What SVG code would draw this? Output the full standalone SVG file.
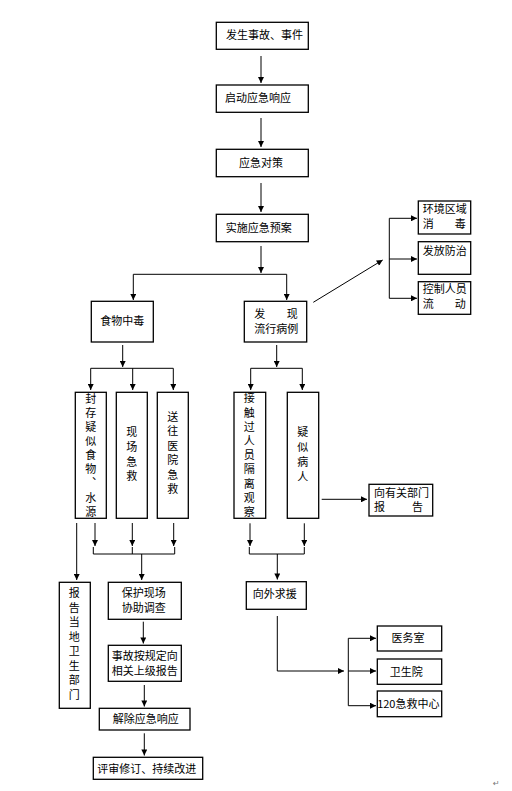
<svg xmlns="http://www.w3.org/2000/svg" width="512" height="791" viewBox="0 0 512 791">
<style>
rect.b{fill:#fff;stroke:#000;stroke-width:1.3}
text{font-family:"Noto Sans CJK SC","Noto Sans",sans-serif;font-size:11px;fill:#000}
.m{text-anchor:middle}
.v{writing-mode:tb;text-anchor:start}
#connectors path,#connectors line{fill:none;stroke:#000;stroke-width:1}
</style>
<defs>
<marker id="arr" viewBox="0 0 8 8" refX="8" refY="4" markerWidth="7" markerHeight="6" markerUnits="userSpaceOnUse" orient="auto">
<path d="M0,0 L8,4 L0,8 z" fill="#000"/>
</marker>
</defs>
<rect width="512" height="791" fill="#fff"/>
<g id="connectors">
<line x1="261" y1="56" x2="261" y2="83" marker-end="url(#arr)"/>
<line x1="261" y1="118" x2="261" y2="147" marker-end="url(#arr)"/>
<line x1="261" y1="183" x2="261" y2="212" marker-end="url(#arr)"/>
<line x1="261" y1="246" x2="261" y2="273" marker-end="url(#arr)"/>
<path d="M133.3,274.3 H286.7"/>
<line x1="133.3" y1="274.3" x2="133.3" y2="300" marker-end="url(#arr)"/>
<line x1="286.7" y1="274.3" x2="286.7" y2="300" marker-end="url(#arr)"/>
<line x1="313.3" y1="302.3" x2="382.7" y2="260" stroke-width="0.8" marker-end="url(#arr)"/>
<path d="M389.3,218.3 V298.3"/>
<line x1="389.3" y1="218.3" x2="417" y2="218.3" marker-end="url(#arr)"/>
<line x1="389.3" y1="259" x2="417" y2="259" marker-end="url(#arr)"/>
<line x1="389.3" y1="298.3" x2="417" y2="298.3" marker-end="url(#arr)"/>
<line x1="122.7" y1="345" x2="122.7" y2="367" marker-end="url(#arr)"/>
<path d="M90.7,368.3 H173.3"/>
<line x1="90.7" y1="368.3" x2="90.7" y2="390" marker-end="url(#arr)"/>
<line x1="132.7" y1="368.3" x2="132.7" y2="390" marker-end="url(#arr)"/>
<line x1="173.3" y1="368.3" x2="173.3" y2="390" marker-end="url(#arr)"/>
<line x1="276.7" y1="345" x2="276.7" y2="367" marker-end="url(#arr)"/>
<path d="M250.7,368.3 H302.3"/>
<line x1="250.7" y1="368.3" x2="250.7" y2="390" marker-end="url(#arr)"/>
<line x1="302.3" y1="368.3" x2="302.3" y2="390" marker-end="url(#arr)"/>
<line x1="76.7" y1="523" x2="76.7" y2="580" marker-end="url(#arr)"/>
<line x1="95" y1="523" x2="95" y2="546" marker-end="url(#arr)"/>
<line x1="132.3" y1="523" x2="132.3" y2="546" marker-end="url(#arr)"/>
<line x1="173.7" y1="523" x2="173.7" y2="546" marker-end="url(#arr)"/>
<path d="M93.3,547 V554 H174.7 V547 M132.3,547 V554"/>
<line x1="141.7" y1="554" x2="141.7" y2="580" marker-end="url(#arr)"/>
<line x1="250" y1="523.3" x2="250" y2="546" marker-end="url(#arr)"/>
<line x1="304.3" y1="523.3" x2="304.3" y2="546" marker-end="url(#arr)"/>
<path d="M249.3,547 V554 H304.3 V547"/>
<line x1="277.3" y1="554" x2="277.3" y2="579.5" marker-end="url(#arr)"/>
<line x1="321.7" y1="499.3" x2="367" y2="499.3" marker-end="url(#arr)"/>
<line x1="143.3" y1="621.7" x2="143.3" y2="643.5" marker-end="url(#arr)"/>
<line x1="144.3" y1="685" x2="144.3" y2="706.5" marker-end="url(#arr)"/>
<line x1="144.3" y1="733.3" x2="144.3" y2="755.5" marker-end="url(#arr)"/>
<path d="M277.3,616 V671 H344" marker-end="url(#arr)"/>
<path d="M348.3,638.3 V705.7"/>
<line x1="348.3" y1="638.3" x2="376" y2="638.3" marker-end="url(#arr)"/>
<line x1="348.3" y1="671" x2="376" y2="671" marker-end="url(#arr)"/>
<line x1="348.3" y1="705.7" x2="376" y2="705.7" marker-end="url(#arr)"/>
</g>
<g id="n1"><rect class="b" x="216.3" y="22.3" width="92" height="27"/><text x="226" y="39">发生事故、事件</text></g>
<g id="n2"><rect class="b" x="216.3" y="85" width="92" height="27.3"/><text x="225" y="101.7">启动应急响应</text></g>
<g id="n3"><rect class="b" x="216.3" y="149.3" width="92" height="27.4"/><text x="239" y="167.3">应急对策</text></g>
<g id="n4"><rect class="b" x="216.3" y="214.3" width="92" height="27.4"/><text x="225.7" y="232.3">实施应急预案</text></g>
<g id="n5"><rect class="b" x="91.3" y="301.3" width="62" height="40.7"/><text class="m" x="122.3" y="324.7">食物中毒</text></g>
<g id="n6"><rect class="b" x="244.3" y="301.3" width="62.4" height="40.7"/><text><tspan x="254.3" y="318">发</tspan><tspan x="286.7" y="318">现</tspan><tspan x="254.3" y="333.3">流行病例</tspan></text></g>
<g id="n7"><rect class="b" x="418.3" y="201" width="52.4" height="33"/><text><tspan x="422.7" y="213.3">环境区域</tspan><tspan x="422.7" y="228">消</tspan><tspan x="454.7" y="228">毒</tspan></text></g>
<g id="n8"><rect class="b" x="418.3" y="241.7" width="52.4" height="32.6"/><text x="422.7" y="255">发放防治</text></g>
<g id="n9"><rect class="b" x="418.3" y="281.7" width="52.4" height="32.6"/><text><tspan x="422.7" y="293.3">控制人员</tspan><tspan x="422.7" y="308.3">流</tspan><tspan x="454.7" y="308.3">动</tspan></text></g>
<g id="n10"><rect class="b" x="75.3" y="392.3" width="31" height="126"/><text class="v" x="90.7" y="393.2" letter-spacing="3.1">封存疑似食物、水源</text></g>
<g id="n11"><rect class="b" x="116.3" y="392.3" width="31" height="126"/><text class="v" x="131.7" y="426.8" letter-spacing="3.6">现场急救</text></g>
<g id="n12"><rect class="b" x="157.3" y="392.3" width="31" height="126"/><text class="v" x="172.7" y="411.2" letter-spacing="3.5">送往医院急救</text></g>
<g id="n13"><rect class="b" x="234" y="392.3" width="31.7" height="126"/><text class="v" x="249.3" y="392.8" letter-spacing="3.2">接触过人员隔离观察</text></g>
<g id="n14"><rect class="b" x="287.3" y="392.3" width="31.4" height="126"/><text class="v" x="302.7" y="426.2" letter-spacing="4">疑似病人</text></g>
<g id="n15"><rect class="b" x="369" y="484.3" width="63.7" height="31.7"/><text><tspan x="374" y="496.7">向有关部门</tspan><tspan x="374" y="511.3">报</tspan><tspan x="412" y="511.3">告</tspan></text></g>
<g id="n16"><rect class="b" x="59.3" y="582.3" width="31" height="126"/><text class="v" x="74.3" y="587.8" letter-spacing="3.5">报告当地卫生部门</text></g>
<g id="n17"><rect class="b" x="108.3" y="582.3" width="73" height="37"/><text><tspan x="121.7" y="597.3">保护现场</tspan><tspan x="121.7" y="612.3">协助调查</tspan></text></g>
<g id="n18"><rect class="b" x="108.3" y="645.3" width="73" height="36"/><text><tspan x="111.7" y="659.8">事故按规定向</tspan><tspan x="111.7" y="674.5">相关上级报告</tspan></text></g>
<g id="n19"><rect class="b" x="99.3" y="708.3" width="90.7" height="21.7"/><text x="112.7" y="723.3">解除应急响应</text></g>
<g id="n20"><rect class="b" x="93.3" y="757.3" width="109.4" height="22"/><text x="97.3" y="773">评审修订、持续改进</text></g>
<g id="n21"><rect class="b" x="246.3" y="581.7" width="60" height="27.6"/><text x="252.7" y="598.3">向外求援</text></g>
<g id="n22"><rect class="b" x="377.3" y="626" width="64.4" height="25"/><text class="m" x="408" y="642.3">医务室</text></g>
<g id="n23"><rect class="b" x="377.3" y="659" width="64.4" height="25.3"/><text class="m" x="406.2" y="675.7">卫生院</text></g>
<g id="n24"><rect class="b" x="377.3" y="691" width="64.4" height="25.7"/><text class="m" x="408.3" y="708.3">120急救中心</text></g>
<text x="493" y="786" style="font-family:'DejaVu Sans',sans-serif;font-size:8px;fill:#777">↵</text>
</svg>
